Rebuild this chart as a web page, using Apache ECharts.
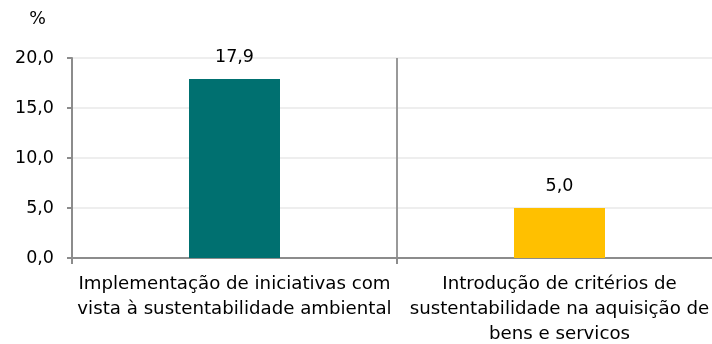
<!DOCTYPE html>
<html>
<head>
<meta charset="utf-8">
<script src="https://cdn.jsdelivr.net/npm/echarts@6/dist/echarts.min.js"></script>
<style>
  html, body { margin: 0; padding: 0; background: #fff; }
  #chart { width: 712px; height: 344px; }
</style>
</head>
<body>
<div id="chart"></div>
<script>
// Categories (line breaks as displayed under the axis)
const categories = [
  'Implementação de iniciativas com\nvista à sustentabilidade ambiental',
  'Introdução de critérios de\nsustentabilidade na aquisição de\nbens e servicos'
];
const values = [17.9, 5.0];
const barColors = ['#007070', '#FFC000'];
const yTicks = [0, 5, 10, 15, 20];

const FONT = 'DejaVu Sans';
const fmt = v => v.toFixed(1).replace('.', ',');

const chart = echarts.init(document.getElementById('chart'), null, { renderer: 'canvas' });
chart.setOption({
  animation: false,
  textStyle: { fontFamily: FONT, color: '#000' },
  // plot area runs a little past the right edge of the canvas
  grid: { left: 72, width: 650, top: 58, height: 200, containLabel: false, outerBoundsMode: 'none' },
  xAxis: {
    type: 'category',
    data: categories,
    axisLine: { lineStyle: { color: '#8c8c8c', width: 2 } },
    axisTick: { show: true, alignWithLabel: false, length: 6, lineStyle: { color: '#8c8c8c', width: 2 } },
    splitLine: { show: true, lineStyle: { color: '#999', width: 2 } },
    axisLabel: {
      interval: 0, margin: 14, fontSize: 18.2, lineHeight: 25,
      color: '#000', fontFamily: FONT, align: 'center'
    }
  },
  yAxis: {
    type: 'value',
    min: yTicks[0], max: yTicks[yTicks.length - 1], interval: 5,
    name: '%', nameLocation: 'end', nameGap: 30,
    nameTextStyle: { fontSize: 17.5, color: '#000', fontFamily: FONT, align: 'right', padding: [0, 26, 0, 0] },
    axisLine: { show: true, lineStyle: { color: '#8c8c8c', width: 2 } },
    axisTick: { show: true, length: 5, lineStyle: { color: '#8c8c8c', width: 2 } },
    splitLine: { show: true, lineStyle: { color: '#eeeeee', width: 2 } },
    axisLabel: { margin: 18, fontSize: 17.5, color: '#000', fontFamily: FONT, formatter: v => fmt(v) }
  },
  series: [{
    type: 'bar',
    barWidth: 91,
    data: values.map((v, i) => ({ value: v, itemStyle: { color: barColors[i] } })),
    label: {
      show: true, position: 'top', distance: 13,
      fontSize: 17.5, color: '#000', fontFamily: FONT,
      formatter: p => fmt(p.value)
    }
  }]
});
</script>
</body>
</html>
